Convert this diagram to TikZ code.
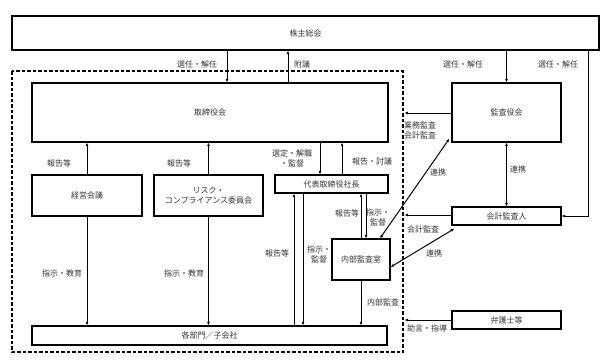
\documentclass[tikz,border=0pt]{standalone}
\usepackage{fontspec}
\newfontfamily\jp{Noto Sans CJK JP}
\usetikzlibrary{arrows.meta}
\begin{document}
\begin{tikzpicture}[x=1pt,y=-1pt,
  txt/.style={font=\jp\fontsize{8}{10}\selectfont, text=black!80},
  box/.style={draw, line width=1.3pt, inner sep=0pt, txt, align=center},
  lab/.style={txt, inner sep=0pt, align=center},
  con/.style={line width=1pt, -{Latex[length=3.5pt,width=3pt]}},
  dcon/.style={line width=1pt, {Latex[length=3.5pt,width=3pt]}-{Latex[length=3.5pt,width=3pt]}},
  ln/.style={line width=1pt}]
\useasboundingbox (0,0) rectangle (607,360);
% dashed frame
\draw[line width=1.1pt, dash pattern=on 3.5pt off 2pt] (12,71) rectangle (403,352);
% boxes
\node[box, minimum width=587, minimum height=34] (sh) at (305.5,33) {株主総会};
\node[box, minimum width=356, minimum height=59] (tb) at (210,112.5) {取締役会};
\node[box, minimum width=109, minimum height=59] (ka) at (506.5,112.5) {監査役会};
\node[box, minimum width=110, minimum height=41] (kk) at (87,195.5) {経営会議};
\node[box, minimum width=109, minimum height=41] (rc) at (208.5,195.5) {リスク・\\コンプライアンス委員会};
\node[box, minimum width=113, minimum height=18] (dh) at (331.5,184) {代表取締役社長};
\node[box, minimum width=109, minimum height=18] (kj) at (506.5,216) {会計監査人};
\node[box, minimum width=58, minimum height=41] (nb) at (361,259.5) {内部監査室};
\node[box, minimum width=355, minimum height=19] (bm) at (209.5,335.5) {各部門／子会社};
\node[box, minimum width=109, minimum height=18] (bg) at (506.5,320) {弁護士等};
% free ends on the dashed frame
\coordinate (f1) at (404.5,113);
\coordinate (f2) at (404.5,215);
\coordinate (f3) at (404.5,320);
% top connectors
\draw[con] (sh.south -| 227,0) -- (tb.north -| 227,0);
\draw[con] (tb.north -| 288,0) -- (sh.south -| 288,0);
\draw[con] (sh.south -| ka.north) -- (ka.north);
\draw[con] (sh.south -| 588,0) |- (kj.east);
% right side
\draw[con] (ka.west |- f1) -- (f1);
\draw[dcon] (ka.south) -- (kj.north);
\draw[dcon] (ka.south west) ++(-2,-4) coordinate (a1) (a1) -- (nb.north -| 380,0);
\draw[con] (kj.west |- f2) -- (f2);
\draw[dcon] (kj.south west) ++(3,3) coordinate (a2) (a2) -- (nb.east |- 0,267);
\draw[con] (bg.west) -- (f3);
% left side
\draw[con] (kk.north) -- (tb.south -| kk.north);
\draw[con] (rc.north) -- (tb.south -| rc.north);
\draw[con] (kk.south) -- (bm.north -| kk.south);
\draw[con] (rc.south) -- (bm.north -| rc.south);
% president
\draw[con] (tb.south -| 320,0) -- (dh.north -| 320,0);
\draw[con] (dh.north -| 342,0) -- (tb.south -| 342,0);
\draw[con] (bm.north -| 294,0) -- (dh.south -| 294,0);
\draw[con] (dh.south -| 303,0) -- (bm.north -| 303,0);
\draw[con] (nb.north -| 361,0) -- (dh.south -| 361,0);
\draw[con] (dh.south -| 366,0) -- (nb.north -| 366,0);
\draw[con] (nb.south) -- (bm.north -| nb.south);
% labels
\node[lab] at (197,64) {選任・解任};
\node[lab] at (302,64) {附議};
\node[lab] at (463,64) {選任・解任};
\node[lab] at (558,64) {選任・解任};
\node[lab, align=left] at (420,130) {業務監査\\会計監査};
\node[lab] at (59,163) {報告等};
\node[lab] at (179,163) {報告等};
\node[lab] at (292,158) {選定・解職\\・監督};
\node[lab] at (372,161) {報告・討議};
\node[lab] at (438,172) {連携};
\node[lab] at (518,169) {連携};
\node[lab] at (347,213) {報告等};
\node[lab] at (378,217) {指示・\\監督};
\node[lab] at (423,229) {会計監査};
\node[lab] at (319,254) {指示・\\監督};
\node[lab] at (277,253) {報告等};
\node[lab] at (434,253) {連携};
\node[lab] at (62,273) {指示・教育};
\node[lab] at (184,273) {指示・教育};
\node[lab] at (383,302) {内部監査};
\node[lab] at (427,328) {助言・指導};
\end{tikzpicture}
\end{document}
